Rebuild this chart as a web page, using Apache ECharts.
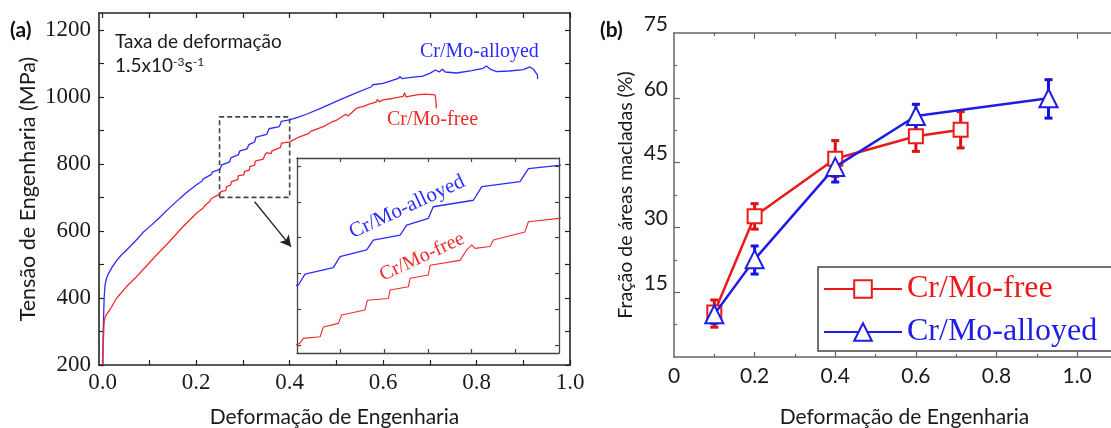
<!DOCTYPE html>
<html><head><meta charset="utf-8">
<script src="https://cdn.jsdelivr.net/npm/echarts@6/dist/echarts.min.js"></script>
<style>html,body{margin:0;padding:0;background:#fff}#c{width:1111px;height:428px}</style>
</head><body><div id="c"></div>
<script>
// ---------- (a) stress-strain curves ----------
const strainAlloyed = [0,0.001,0.003,0.005,0.008,0.012,0.02,0.03,0.04,0.051,0.07,0.086,0.1,0.12,0.14,0.165,0.18,0.2,0.212,0.215,0.232,0.235,
  0.2508,0.2546,0.2708,0.2746,0.2899,0.2937,0.309,0.3128,0.3252,0.328,0.351,0.3558,0.3777,0.3825,0.4,
  0.42,0.436,0.47,0.507,0.54,0.575,0.578,0.582,0.6,0.633,0.636,0.64,0.66,0.685,0.70,0.712,0.716,0.72,0.727,0.733,0.757,0.79,0.814,0.821,0.83,0.843,0.87,0.9,0.914,0.922,0.93,0.931];
const stressAlloyed = [200,300,400,440,458,472,492,512,528,543,570,595,612,638,665,697,715,737,748,755,768,776,
  783.7,797,805,818.6,826.8,839,845,857.5,865.7,880,888,904.7,911,927,931,
  940,948,968,991,1010,1030,1036,1031,1040,1055,1061,1054,1058,1062,1070,1080,1078,1074,1082,1074,1071,1078,1085,1092,1082,1075,1077,1081,1089,1082,1066,1053];
const strainFree = [0,0.001,0.003,0.006,0.01,0.015,0.03,0.051,0.07,0.086,0.1,0.115,0.14,0.17,0.2,0.215,0.218,0.229,0.232,0.245,
  0.2517,0.2536,0.2632,0.2651,0.2737,0.2756,0.2889,0.2903,0.3023,0.3033,0.3138,0.3147,0.3252,0.3262,0.3433,0.3472,0.35,0.3519,0.3605,0.3624,0.3805,0.3825,0.4,
  0.42,0.44,0.445,0.472,0.49,0.5,0.52,0.525,0.543,0.56,0.57,0.585,0.588,0.592,0.6,0.62,0.643,0.646,0.649,0.672,0.69,0.711,0.713,0.714];
const stressFree = [200,260,330,346,355,364,400,434,460,484,505,528,564,610,652,668,675,688,696,706,
  712,718,720,732,736.5,746.8,753,765,767,777.5,781.6,792,796,808,814,827,833,828.8,831,839,849,861.6,865.7,
  880,890,897,911,925,930,948,943,966,972,978,984,992,985,991,995,1001,1012,1000,1006,1008,1006,990,966];

// zoom window shown in the inset (strain, MPa)
const zoomStrain = [0.25, 0.40];
const zoomStress = [700, 940];
// arrow from zoom box to inset (strain, MPa)
const arrowFrom = [0.325, 687];
const arrowTo = [0.403, 553];

// tick labels
const ticksA_x = [0, 0.2, 0.4, 0.6, 0.8, 1.0];
const ticksA_xAll = [0,0.1,0.2,0.3,0.4,0.5,0.6,0.7,0.8,0.9,1.0];
const ticksA_y = [200, 400, 600, 800, 1000, 1200];
const ticksA_yAll = [200,300,400,500,600,700,800,900,1000,1100,1200];
const ticksInset_x = [0.275, 0.3, 0.325, 0.35, 0.375];
const ticksInset_y = [710, 754, 798, 842, 886, 930];

// ---------- (b) twinned area fraction ----------
const fracStrainFree = [0.1, 0.2, 0.4, 0.6, 0.711];
const fracFree = [10.3, 32.6, 45.9, 51.1, 52.6];
const fracFreeHi = [13.2, 35.5, 50.1, 54.5, 56.8];
const fracFreeLo = [6.9, 29.6, 41.8, 47.6, 48.4];
const fracStrainAlloyed = [0.1, 0.2, 0.4, 0.6, 0.929];
const fracAlloyed = [9.9, 22.6, 44.0, 55.8, 59.9];
const fracAlloyedHi = [11.5, 25.7, 46.6, 58.5, 64.2];
const fracAlloyedLo = [7.8, 19.2, 40.5, 51.8, 55.3];
const ticksB_x = [0, 0.2, 0.4, 0.6, 0.8, 1.0];
const ticksB_xMinor = [0.1, 0.3, 0.5, 0.7, 0.9];
const ticksB_y = [15, 30, 45, 60, 75];
const ticksB_yMinor = [7.5, 22.5, 37.5, 52.5, 67.5];

const zip = (a, b) => a.map((v, i) => [v, b[i]]);
const zip3 = (a, b, c) => a.map((v, i) => [v, b[i], c[i]]);

const BLUE_A = '#2b2bff', RED_A = '#f02a2a';
const BLUE_B = '#1d1de6', RED_B = '#ea1a1a';
const SERIF = 'Liberation Serif', SANS = 'Lato';
const TXT = '#1a1a1a';

function errRender(color) {
  return function (params, api) {
    const x = api.value(0), lo = api.value(1), hi = api.value(2);
    const a = api.coord([x, lo]), b = api.coord([x, hi]);
    const w = 4;
    const st = { stroke: color, lineWidth: 3 };
    return { type: 'group', children: [
      { type: 'line', shape: { x1: a[0], y1: a[1], x2: b[0], y2: b[1] }, style: st },
      { type: 'line', shape: { x1: a[0] - w, y1: a[1], x2: a[0] + w, y2: a[1] }, style: st },
      { type: 'line', shape: { x1: b[0] - w, y1: b[1], x2: b[0] + w, y2: b[1] }, style: st }
    ]};
  };
}

function frameAxis(grid, pos, min, max, ticks, color, width, len) {
  return { gridIndex: grid, type: 'value', position: pos, min: min, max: max,
    axisLine: { show: true, onZero: false, lineStyle: { color: color, width: width } },
    axisTick: { show: true, inside: true, length: len, customValues: ticks, lineStyle: { color: color, width: 1.2 } },
    axisLabel: { show: false }, splitLine: { show: false } };
}
function tickOnly(grid, pos, min, max, ticks, color, len) {
  return { gridIndex: grid, type: 'value', position: pos, min: min, max: max,
    axisLine: { show: false, onZero: false },
    axisTick: { show: true, inside: true, length: len, customValues: ticks, lineStyle: { color: color, width: 1.2 } },
    axisLabel: { show: false }, splitLine: { show: false } };
}

const xA0 = frameAxis(0, 'bottom', -0.008, 1.0, ticksA_xAll, '#222', 1.6, 5);
xA0.axisLabel = { show: true, customValues: ticksA_x, formatter: v => v.toFixed(1),
  fontFamily: SERIF, fontSize: 23, color: TXT, margin: 6 };
xA0.name = 'Deformação de Engenharia'; xA0.nameLocation = 'middle'; xA0.nameGap = 42;
xA0.nameTextStyle = { fontFamily: SANS, fontSize: 21, color: TXT };
const yA0 = frameAxis(0, 'left', 200, 1250, ticksA_yAll, '#222', 1.6, 5);
yA0.axisLabel = { show: true, customValues: ticksA_y, formatter: v => String(v),
  fontFamily: SERIF, fontSize: 23, color: TXT, margin: 8 };
yA0.name = 'Tensão de Engenharia (MPa)'; yA0.nameLocation = 'middle'; yA0.nameGap = 60;
yA0.nameTextStyle = { fontFamily: SANS, fontSize: 21.5, color: TXT };

const xB0 = frameAxis(2, 'bottom', 0, 1.084, [0.2, 0.4, 0.6, 0.8, 1.0], '#666', 1.5, 5);
xB0.axisLabel = { show: true, customValues: ticksB_x, formatter: v => v === 0 ? '0' : v.toFixed(1), fontFamily: SANS, fontSize: 21, color: TXT, margin: 9 };
xB0.name = 'Deformação de Engenharia'; xB0.nameLocation = 'middle'; xB0.nameGap = 50;
xB0.nameTextStyle = { fontFamily: SANS, fontSize: 21, color: TXT, padding: [0, 0, 0, 24] };
const yB0 = frameAxis(2, 'left', 0, 75, [15, 30, 45, 60], '#666', 1.5, 6);
yB0.axisLabel = { show: true, customValues: ticksB_y, formatter: v => String(v), fontFamily: SANS, fontSize: 21, color: TXT, margin: 6,
  verticalAlign: 'bottom', lineHeight: 18 };
yB0.name = 'Fração de áreas macladas (%)'; yB0.nameLocation = 'middle'; yB0.nameGap = 38;
yB0.nameTextStyle = { fontFamily: SANS, fontSize: 19.5, color: TXT };

const option = {
  animation: false,
  backgroundColor: '#fff',
  grid: [
    { left: 99, top: 13, width: 471, height: 352, outerBoundsMode: 'none', containLabel: false },
    { left: 297, top: 158, width: 262, height: 195, show: true, backgroundColor: '#fff', borderWidth: 0, outerBoundsMode: 'none', containLabel: false },
    { left: 674, top: 33, width: 437, height: 324, outerBoundsMode: 'none', containLabel: false }
  ],
  xAxis: [
    xA0,
    frameAxis(0, 'top', -0.008, 1.0, ticksA_xAll, '#222', 1.6, 5),
    frameAxis(1, 'bottom', zoomStrain[0], zoomStrain[1], ticksInset_x, '#444', 1.3, 4),
    frameAxis(1, 'top', zoomStrain[0], zoomStrain[1], ticksInset_x, '#444', 1.3, 4),
    xB0,
    tickOnly(2, 'bottom', 0, 1.084, ticksB_xMinor, '#666', 3),
    frameAxis(2, 'top', 0, 1.084, [0.2, 0.4, 0.6, 0.8, 1.0], '#666', 1.5, 6),
    tickOnly(2, 'top', 0, 1.084, ticksB_xMinor, '#666', 3)
  ],
  yAxis: [
    yA0,
    frameAxis(0, 'right', 200, 1250, ticksA_yAll, '#222', 1.6, 5),
    frameAxis(1, 'left', zoomStress[0], zoomStress[1], ticksInset_y, '#444', 1.3, 4),
    frameAxis(1, 'right', zoomStress[0], zoomStress[1], ticksInset_y, '#444', 1.3, 4),
    yB0,
    tickOnly(2, 'left', 0, 75, ticksB_yMinor, '#666', 3)
  ],
  legend: {
    data: [
      { name: 'Cr/Mo-free', textStyle: { color: RED_B } },
      { name: 'Cr/Mo-alloyed', textStyle: { color: BLUE_B } }
    ],
    orient: 'vertical', left: 818, top: 267,
    itemWidth: 78, itemHeight: 22, itemGap: 11,
    padding: [6, 30, 3, 5],
    borderColor: '#444', borderWidth: 1.5,
    textStyle: { fontFamily: SERIF, fontSize: 32 },
    selectedMode: false
  },
  series: [
    { name: 'curva alloyed', type: 'line', xAxisIndex: 0, yAxisIndex: 0, data: zip(strainAlloyed, stressAlloyed),
      symbol: 'none', lineStyle: { color: BLUE_A, width: 1.3 }, color: BLUE_A, z: 3,
      markArea: { silent: true, itemStyle: { color: 'rgba(0,0,0,0)', borderColor: '#444', borderWidth: 1.6, borderType: [5, 3] },
        data: [[{ coord: [zoomStrain[0], zoomStress[0]] }, { coord: [zoomStrain[1], zoomStress[1]] }]] } },
    { name: 'curva free', type: 'line', xAxisIndex: 0, yAxisIndex: 0, data: zip(strainFree, stressFree),
      symbol: 'none', lineStyle: { color: RED_A, width: 1.3 }, color: RED_A, z: 3,
      markLine: { silent: true, symbol: ['none', 'arrow'], symbolSize: [9, 11], label: { show: false },
        lineStyle: { color: '#222', width: 1.3, type: 'solid' },
        data: [[{ coord: arrowFrom }, { coord: arrowTo }]] } },
    { name: 'inset alloyed', type: 'line', xAxisIndex: 2, yAxisIndex: 2, data: zip(strainAlloyed, stressAlloyed),
      symbol: 'none', clip: true, lineStyle: { color: BLUE_A, width: 1.3 }, color: BLUE_A },
    { name: 'inset free', type: 'line', xAxisIndex: 2, yAxisIndex: 2, data: zip(strainFree, stressFree),
      symbol: 'none', clip: true, lineStyle: { color: RED_A, width: 1.1 }, color: RED_A },
    { name: 'err free', type: 'custom', xAxisIndex: 4, yAxisIndex: 4, renderItem: errRender('#e01010'),
      data: zip3(fracStrainFree, fracFreeLo, fracFreeHi), z: 2 },
    { name: 'err alloyed', type: 'custom', xAxisIndex: 4, yAxisIndex: 4, renderItem: errRender('#1414dd'),
      data: zip3(fracStrainAlloyed, fracAlloyedLo, fracAlloyedHi), z: 2 },
    { name: 'Cr/Mo-free', type: 'line', xAxisIndex: 4, yAxisIndex: 4, data: zip(fracStrainFree, fracFree),
      symbol: 'emptyRect', symbolSize: 14, lineStyle: { color: RED_B, width: 2.5 },
      itemStyle: { color: RED_B, borderWidth: 1.5 }, color: RED_B, z: 3 },
    { name: 'Cr/Mo-alloyed', type: 'line', xAxisIndex: 4, yAxisIndex: 4, data: zip(fracStrainAlloyed, fracAlloyed),
      symbol: 'emptyTriangle', symbolSize: 18, lineStyle: { color: BLUE_B, width: 2.5 },
      itemStyle: { color: BLUE_B, borderWidth: 1.5 }, color: BLUE_B, z: 4 }
  ],
  graphic: [
    { type: 'text', left: 10, top: 20, style: { text: '(a)', font: 'bold 21px Lato', fill: '#111' } },
    { type: 'text', left: 600, top: 20, style: { text: '(b)', font: 'bold 21px Lato', fill: '#111' } },
    { type: 'text', x: 115, y: 42, style: { text: 'Taxa de deformação', font: '19px Lato', fill: TXT, verticalAlign: 'middle' } },
    { type: 'text', x: 115, y: 56, style: { text: '1.5x10{s|-3}s{s|-1}', font: '19px Lato', fill: TXT,
        rich: { s: { fontSize: 12, fontFamily: SANS, verticalAlign: 'top', lineHeight: 14 } } } },
    { type: 'text', x: 420, y: 52, style: { text: 'Cr/Mo-alloyed', font: '20px "Liberation Serif"', fill: BLUE_A, verticalAlign: 'middle' } },
    { type: 'text', x: 387, y: 120, style: { text: 'Cr/Mo-free', font: '20px "Liberation Serif"', fill: RED_A, verticalAlign: 'middle' } },
    { type: 'text', x: 407, y: 207, rotation: 0.436, z: 100,
      style: { text: 'Cr/Mo-alloyed', font: '21px "Liberation Serif"', fill: BLUE_A, align: 'center', verticalAlign: 'middle' } },
    { type: 'text', x: 422, y: 257, rotation: 0.436, z: 100,
      style: { text: 'Cr/Mo-free', font: '20px "Liberation Serif"', fill: RED_A, align: 'center', verticalAlign: 'middle' } }
  ]
};
const chart = echarts.init(document.getElementById('c'), null, { renderer: 'canvas' });
chart.setOption(option);
</script></body></html>
